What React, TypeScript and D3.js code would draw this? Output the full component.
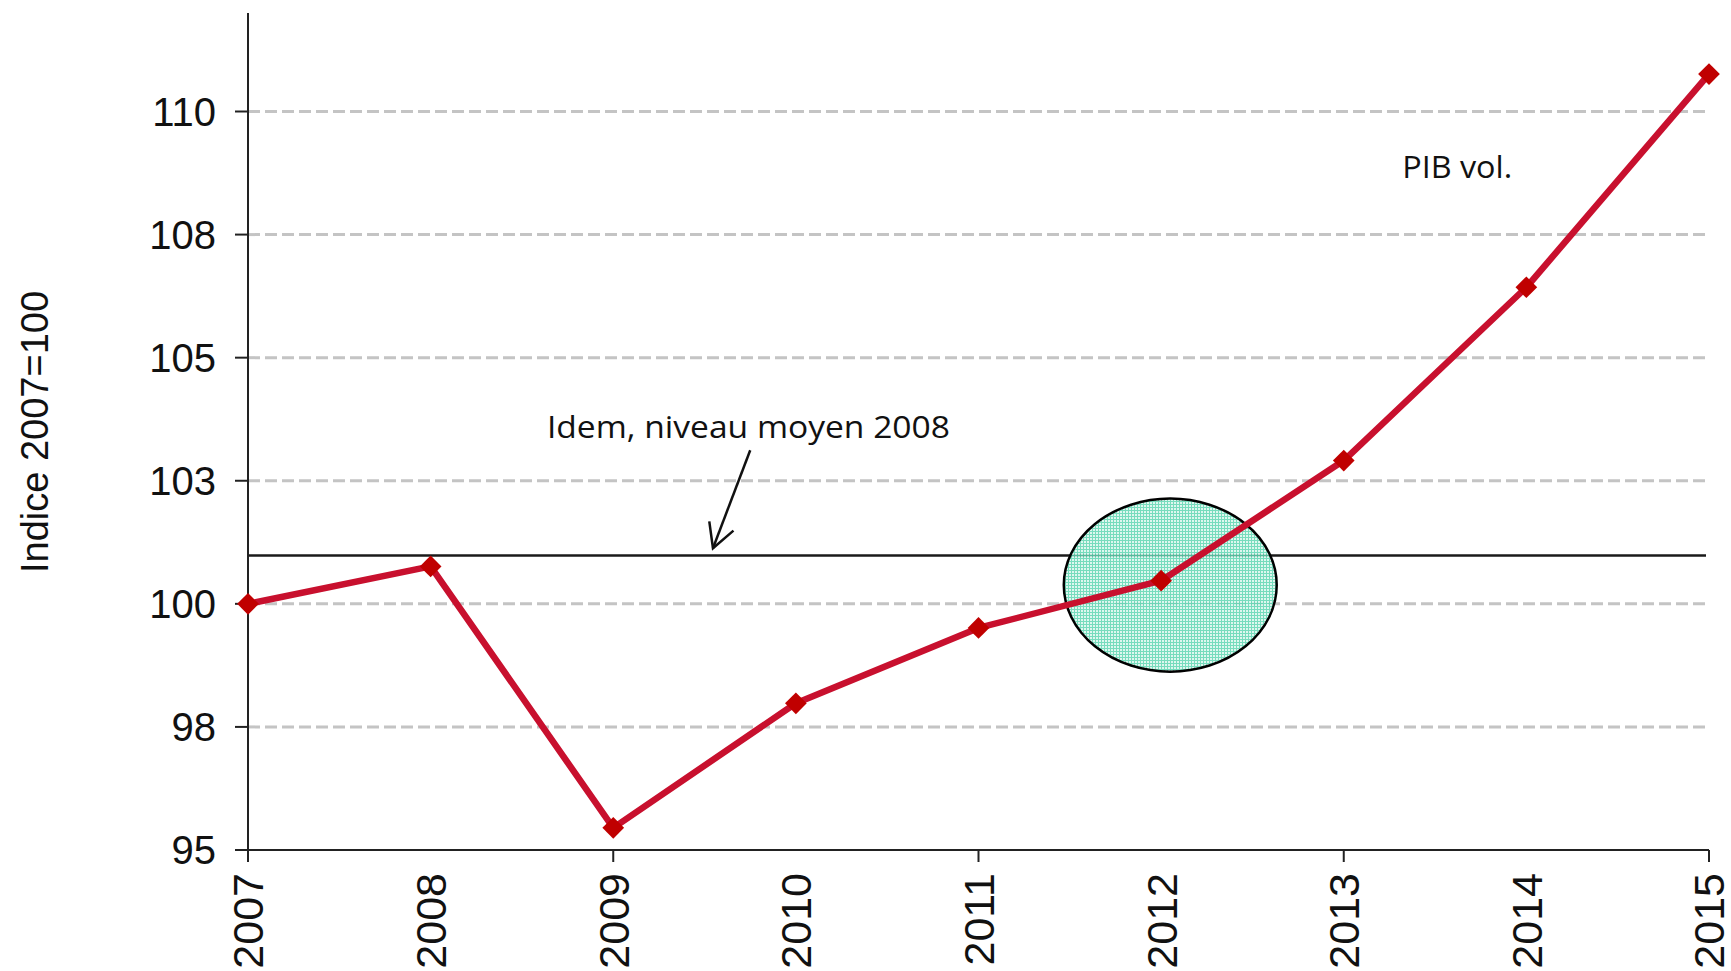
import React from "react";
import * as d3 from "d3";

const years = [2007, 2008, 2009, 2010, 2011, 2012, 2013, 2014, 2015];
const pibVol = [100, 100.76, 95.45, 97.98, 99.51, 100.47, 102.91, 106.43, 110.76];
const yTicks = [95, 97.5, 100, 102.5, 105, 107.5, 110];
const yTickLabels = ["95", "98", "100", "103", "105", "108", "110"];
const xTickMarks = [2007, 2009, 2011, 2013, 2015];
const niveauMoyen2008 = 100.98;
const yAxisTitle = "Indice 2007=100";
const annotText = "Idem, niveau moyen 2008";
const seriesLabel = "PIB vol.";
// annotation anchors in data units
const annotPos = { x: 2008.637, y: 103.37 };
const arrowFrom = { x: 2009.75, y: 103.12 };
const arrowTo = { x: 2009.546, y: 101.13 };
const ellipse = { cx: 2012.05, cy: 100.38, rx: 0.583, ry: 1.757 };
const labelPos = { x: 2013.32, y: 108.65 };

export default function App() {
  const W = 1731, H = 971;
  const x = d3.scaleLinear().domain([2007, 2015]).range([248, 1709]);
  const y = d3.scaleLinear().domain([95, 110]).range([850, 111.5]);
  const yTop = y(112);
  const line = d3.line<number>().x((_, i) => x(years[i])).y((d) => y(d));
  const font = "Arial, 'Liberation Sans', sans-serif";
  const afont = "'Open Sans', 'Noto Sans', sans-serif";

  // arrow head
  const ax0 = x(arrowFrom.x), ay0 = y(arrowFrom.y), ax1 = x(arrowTo.x), ay1 = y(arrowTo.y);
  const ang = Math.atan2(ay1 - ay0, ax1 - ax0);
  const hl = 27, ha = 0.5;
  const w1 = [ax1 - hl * Math.cos(ang - ha), ay1 - hl * Math.sin(ang - ha)];
  const w2 = [ax1 - hl * Math.cos(ang + ha), ay1 - hl * Math.sin(ang + ha)];

  const diamond = d3.symbol().type(d3.symbolDiamond2).size(300)();

  return (
    <svg width={W} height={H} style={{ position: "absolute", left: 0, top: 0, background: "#fff" }}>
      <defs>
        <pattern id="dots" width="3" height="3" patternUnits="userSpaceOnUse">
          <rect width="3" height="3" fill="#d8f6ec" />
          <rect width="3" height="1" fill="#5fd6b2" />
          <rect width="1" height="3" fill="#5fd6b2" />
        </pattern>
      </defs>
      {/* gridlines */}
      {yTicks.filter((t) => t !== 95).map((t) => (
        <line key={t} x1={x(2007)} x2={x(2015)} y1={y(t)} y2={y(t)} stroke="#c4c4c4" strokeWidth={3} strokeDasharray="12,5" />
      ))}
      {/* average 2008 level */}
      <line x1={x(2007)} x2={x(2015) - 3} y1={y(niveauMoyen2008)} y2={y(niveauMoyen2008)} stroke="#1a1a1a" strokeWidth={2.5} />
      {/* ellipse */}
      <ellipse cx={x(ellipse.cx)} cy={y(ellipse.cy)} rx={x(2007 + ellipse.rx) - x(2007)} ry={y(100) - y(100 + ellipse.ry)}
        fill="url(#dots)" fillOpacity={0.85} stroke="#000" strokeWidth={2.5} />
      {/* axes */}
      <line x1={x(2007)} x2={x(2007)} y1={yTop} y2={y(95)} stroke="#222" strokeWidth={2} />
      <line x1={x(2007)} x2={x(2015)} y1={y(95)} y2={y(95)} stroke="#222" strokeWidth={2} />
      {yTicks.map((t, i) => (
        <g key={t}>
          <line x1={x(2007) - 13} x2={x(2007)} y1={y(t)} y2={y(t)} stroke="#222" strokeWidth={2} />
          <text x={216} y={y(t)} dy="0.36em" textAnchor="end" fontFamily={font} fontSize={40} fill="#111">{yTickLabels[i]}</text>
        </g>
      ))}
      {xTickMarks.map((t) => (
        <line key={t} x1={x(t)} x2={x(t)} y1={y(95)} y2={y(95) + 12} stroke="#222" strokeWidth={2} />
      ))}
      {years.map((yr) => (
        <text key={yr} transform={`translate(${x(yr)},873) rotate(-90)`} dy="0.36em" textAnchor="end" fontFamily={font} fontSize={43} fill="#111">{yr}</text>
      ))}
      <text transform={`translate(48,432) rotate(-90)`} textAnchor="middle" fontFamily={font} fontSize={38} fill="#111">{yAxisTitle}</text>
      {/* series */}
      <path d={line(pibVol) || ""} fill="none" stroke="#c8102e" strokeWidth={6.5} strokeLinejoin="round" />
      {pibVol.map((v, i) => (
        <path key={i} d={diamond || ""} transform={`translate(${x(years[i])},${y(v)})`} fill="#c00000" />
      ))}
      {/* annotations */}
      <text x={x(annotPos.x)} y={y(annotPos.y)} fontFamily={afont} fontSize={31} fill="#111" textLength={403} lengthAdjust="spacingAndGlyphs">{annotText}</text>
      <line x1={ax0} y1={ay0} x2={ax1} y2={ay1} stroke="#111" strokeWidth={2.5} />
      <polyline points={`${w1[0]},${w1[1]} ${ax1},${ay1} ${w2[0]},${w2[1]}`} fill="none" stroke="#111" strokeWidth={2.5} />
      <text x={x(labelPos.x)} y={y(labelPos.y)} fontFamily={afont} fontSize={31} fill="#111" textLength={110} lengthAdjust="spacingAndGlyphs">{seriesLabel}</text>
    </svg>
  );
}
